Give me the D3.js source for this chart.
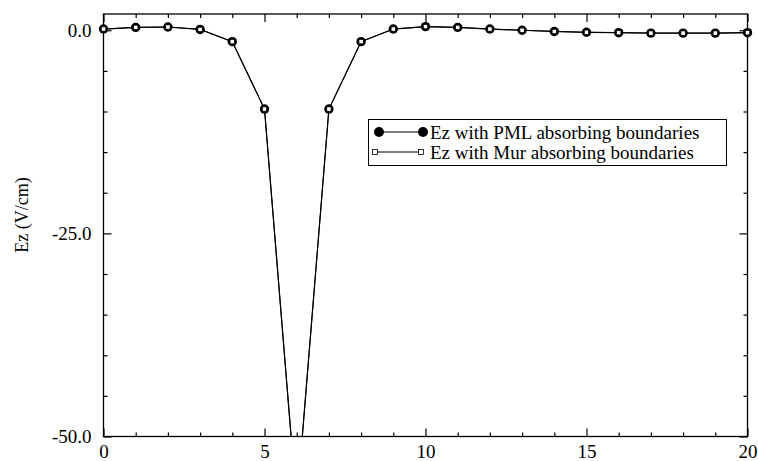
<!DOCTYPE html>
<html>
<head>
<meta charset="utf-8">
<script src="https://cdn.jsdelivr.net/npm/d3@7"></script>
<style>
  body { margin: 0; background: #fff; }
  text { font-family: "Liberation Serif", "Times New Roman", serif; }
</style>
</head>
<body>
<svg width="758" height="461"></svg>
<script>
// time step index and field values (V/cm)
const steps = d3.range(0, 21);
const pmlEz = [0.15, 0.35, 0.4, 0.1, -1.4, -9.7, -58.5, -9.7, -1.4, 0.15, 0.45, 0.35, 0.15, 0.0, -0.15, -0.25, -0.3, -0.35, -0.35, -0.35, -0.3];
const murEz = [0.15, 0.35, 0.4, 0.1, -1.4, -9.7, -58.5, -9.7, -1.4, 0.15, 0.45, 0.35, 0.15, 0.0, -0.15, -0.25, -0.3, -0.35, -0.35, -0.35, -0.3];
const xMajor = [0, 5, 10, 15, 20];
const yMajor = [0, -25, -50];
const legendLabels = ["Ez with PML absorbing boundaries", "Ez with Mur absorbing boundaries"];

const svg = d3.select("svg");
const pLeft = 103.5, pRight = 747.5, pTop = 14, pBottom = 436.5;

const x = d3.scaleLinear().domain([0, 20]).range([pLeft, pRight]);
const y = d3.scaleLinear().domain([-50, 2]).range([pBottom, pTop]);

svg.append("clipPath").attr("id", "plot")
  .append("rect").attr("x", pLeft).attr("y", pTop)
  .attr("width", pRight - pLeft).attr("height", pBottom - pTop);

// ticks, all pointing inward
const xMinor = steps.filter(d => d % 5 != 0);
const yMinor = d3.range(-45, 1, 5).filter(d => d % 25 != 0);

function tickAxis(axis, pos, vals, size, labels, pad) {
  const g = svg.append("g").attr("transform", pos)
    .call(axis.tickValues(vals).tickSize(-size).tickPadding(pad || 0)
      .tickFormat(labels ? labels : ""));
  g.select(".domain").remove();
  g.selectAll("line").attr("stroke", "#000").attr("stroke-width", 1.2);
  g.selectAll("text").attr("font-size", 19).attr("fill", "#000")
    .attr("font-family", "Liberation Serif");
  return g;
}

tickAxis(d3.axisBottom(x), `translate(0,${pBottom})`, xMajor, 8, d => String(d), 8);
tickAxis(d3.axisBottom(x), `translate(0,${pBottom})`, xMinor, 4);
tickAxis(d3.axisTop(x), `translate(0,${pTop})`, xMajor, 8);
tickAxis(d3.axisTop(x), `translate(0,${pTop})`, xMinor, 4);
tickAxis(d3.axisLeft(y), `translate(${pLeft},0)`, yMajor, 8, d => d.toFixed(1), 12);
tickAxis(d3.axisLeft(y), `translate(${pLeft},0)`, yMinor, 4);
tickAxis(d3.axisRight(y), `translate(${pRight},0)`, yMajor, 8);
tickAxis(d3.axisRight(y), `translate(${pRight},0)`, yMinor, 4);

svg.append("rect")
  .attr("x", pLeft).attr("y", pTop)
  .attr("width", pRight - pLeft).attr("height", pBottom - pTop)
  .attr("fill", "none").attr("stroke", "#000").attr("stroke-width", 1.3);

const line = d3.line().x((d, i) => x(steps[i])).y(d => y(d));

const plot = svg.append("g").attr("clip-path", "url(#plot)");
plot.append("path").attr("d", line(pmlEz))
  .attr("fill", "none").attr("stroke", "#000").attr("stroke-width", 1.2);
plot.append("path").attr("d", line(murEz))
  .attr("fill", "none").attr("stroke", "#000").attr("stroke-width", 1);

const pts = pmlEz.map((d, i) => ({ x: steps[i], y: d })).filter(d => d.y >= -50);
svg.selectAll(".pml").data(pts).join("circle")
  .attr("cx", d => x(d.x)).attr("cy", d => y(d.y)).attr("r", 4.7)
  .attr("fill", "#000");

const mpts = murEz.map((d, i) => ({ x: steps[i], y: d })).filter(d => d.y >= -50);
svg.selectAll(".mur").data(mpts).join("rect")
  .attr("x", d => x(d.x) - 2.2).attr("y", d => y(d.y) - 2.2)
  .attr("width", 4.4).attr("height", 4.4)
  .attr("fill", "#fff").attr("stroke", "#000").attr("stroke-width", 0.8);

// y title
svg.append("text")
  .attr("transform", "translate(28,215) rotate(-90)")
  .attr("text-anchor", "middle")
  .attr("font-size", 18)
  .text("Ez (V/cm)");

// legend
const lg = svg.append("g");
lg.append("rect").attr("x", 368.5).attr("y", 119.5).attr("width", 358).attr("height", 46)
  .attr("fill", "#fff").attr("stroke", "#000").attr("stroke-width", 1);

const rowY = [132, 152];
lg.append("line").attr("x1", 379).attr("x2", 423).attr("y1", rowY[0]).attr("y2", rowY[0])
  .attr("stroke", "#000").attr("stroke-width", 1.2);
lg.selectAll(".lc").data([379, 423]).join("circle")
  .attr("cx", d => d).attr("cy", rowY[0]).attr("r", 5).attr("fill", "#000");
lg.append("line").attr("x1", 375).attr("x2", 421).attr("y1", rowY[1]).attr("y2", rowY[1])
  .attr("stroke", "#000").attr("stroke-width", 1);
lg.selectAll(".ls").data([375, 421]).join("rect")
  .attr("x", d => d - 2.5).attr("y", rowY[1] - 2.5).attr("width", 5).attr("height", 5)
  .attr("fill", "#fff").attr("stroke", "#000").attr("stroke-width", 0.8);

lg.selectAll(".lt").data(legendLabels).join("text")
  .attr("x", 430).attr("y", (d, i) => rowY[i]).attr("dy", "0.35em")
  .attr("font-size", 19)
  .text(d => d);
</script>
</body>
</html>
